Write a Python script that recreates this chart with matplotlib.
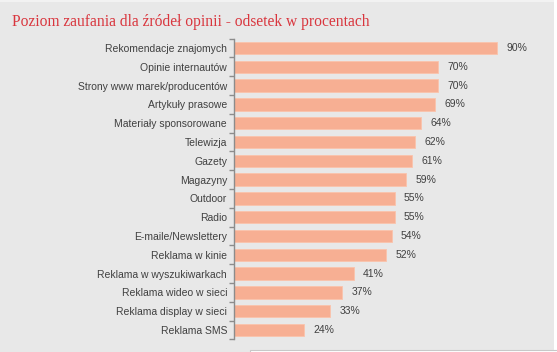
import matplotlib
matplotlib.use("Agg")
import matplotlib.pyplot as plt
from matplotlib.patches import Rectangle

categories = [
    "Rekomendacje znajomych", "Opinie internautów", "Strony www marek/producentów",
    "Artykuły prasowe", "Materiały sponsorowane", "Telewizja", "Gazety", "Magazyny",
    "Outdoor", "Radio", "E-maile/Newslettery", "Reklama w kinie",
    "Reklama w wyszukiwarkach", "Reklama wideo w sieci", "Reklama display w sieci",
    "Reklama SMS",
]
values = [90, 70, 70, 69, 64, 62, 61, 59, 55, 55, 54, 52, 41, 37, 33, 24]
value_labels = [f"{v}%" for v in values]
title = "Poziom zaufania dla źródeł opinii - odsetek w procentach"

W, H = 557, 352
fig = plt.figure(figsize=(W / 100, H / 100), dpi=100)
fig.patch.set_facecolor("#e8e8e8")
fig.add_artist(Rectangle((0, 1 - 2 / H), 1, 2 / H, transform=fig.transFigure,
                         facecolor="#f2f2f2", edgecolor="none"))
fig.add_artist(Rectangle((1 - 3 / W, 0), 3 / W, 1, transform=fig.transFigure,
                         facecolor="white", edgecolor="none"))

px = 2.92
left = 234 / W
xmax = 104
width = xmax * px / W
top_px, bot_px = 38.6, 339.4
ax = fig.add_axes([left, 1 - bot_px / H, width, (bot_px - top_px) / H])
ax.set_facecolor("none")

n = len(categories)
ys = list(range(n))
ax.barh(ys, values, height=0.66, color="#F7AF93", edgecolor="#FAC3AC", linewidth=0.6)
ax.set_xlim(0, xmax)
ax.set_ylim(n - 0.5, -0.5)

for y, v, lab in zip(ys, values, value_labels):
    ax.text(v + 3.2, y, lab, va="center", ha="left", fontsize=7.5,
            color="#404040", family="Liberation Sans")

for s in ["top", "right", "bottom"]:
    ax.spines[s].set_visible(False)
ax.spines["left"].set_color("#8c8c8c")
ax.spines["left"].set_linewidth(1.0)
ax.set_xticks([])
ax.set_yticks([i - 0.5 for i in range(n + 1)])
ax.set_yticklabels([])
ax.tick_params(axis="y", which="major", length=3.5, width=1.0, color="#8c8c8c", direction="out")
ax.set_yticks(ys, minor=True)
ax.set_yticklabels(categories, minor=True, fontsize=7.5, color="#404040", family="Liberation Sans")
ax.tick_params(axis="y", which="minor", length=0, pad=5)

fig.text(12 / W, 1 - 26 / H, title, fontsize=11.2, color="#D9363E",
         family="Liberation Serif", ha="left", va="baseline")

fig.add_artist(Rectangle((250 / W, -0.01), 0.7, 6 / H, transform=fig.transFigure,
                         facecolor="white", edgecolor="#c8c8c8", linewidth=0.8))

fig.savefig("out.png", dpi=100, facecolor=fig.get_facecolor())
